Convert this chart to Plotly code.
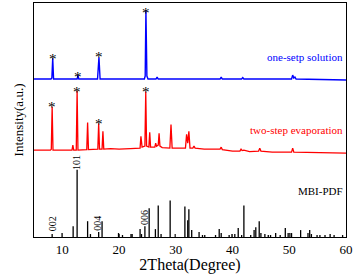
import plotly.graph_objects as go

# ---- data (intensity in arbitrary units) ----
blue_x = [5.0, 8.0, 8.15, 8.3, 8.45, 12.6, 12.75, 12.9, 16.2, 16.45, 16.65, 24.45, 24.6, 24.73, 24.9, 25.1,
          26.5, 26.7, 26.9, 37.8, 38.0, 38.2, 41.6, 41.8, 42.0, 50.4, 50.6, 50.8, 51.0, 51.2, 60.0]
blue_y = [160, 160, 161, 181, 160, 160, 164, 160, 160, 182, 160, 160, 163, 230, 163, 160,
          160, 162, 160, 160, 162, 160, 160, 161.5, 160, 160, 164, 161, 162, 160, 159]

red_x = [5.0, 7.9, 8.05, 8.2, 8.35, 11.7, 11.85, 12.0, 12.45, 12.6, 12.75, 14.3, 14.45, 14.6,
         16.25, 16.4, 16.55, 17.0, 17.15, 17.3, 18.5, 20.0, 22.0, 23.7, 23.85, 24.05, 24.55, 24.7, 24.85,
         25.25, 25.4, 25.55, 26.3, 26.45, 26.6, 26.9, 27.05, 27.2, 27.6, 28.95, 29.15, 29.35,
         31.7, 31.9, 32.1, 32.3, 32.5, 33.0, 33.2, 33.4, 35.0, 37.8, 38.0, 38.2, 40.0, 41.3, 41.5, 41.7,
         42.0, 43.0, 44.6, 44.8, 45.0, 47.0, 50.4, 50.6, 50.8, 55.0, 60.0]
red_y = [88, 88, 89, 132, 88, 88, 93, 88, 88, 148, 88, 88.5, 116, 88.5,
         89, 115, 89, 89, 107, 89, 89.5, 89, 89.5, 90, 102, 91, 92, 147, 92,
         91, 106, 91, 91, 95, 92, 93, 105, 92, 90.5, 90, 114, 90,
         90, 104, 95, 107, 90, 90, 92, 90, 89, 89, 91, 88.5, 87, 87, 89, 87.5,
         88, 86.5, 87, 90, 87, 86, 86, 90, 86, 85.5, 85]

pdf_pos = [8.2, 9.95, 11.9, 12.6, 14.45, 14.95, 16.4, 17.0, 19.9, 20.6, 22.1, 22.3, 23.7, 23.95, 24.55,
           25.3, 26.4, 26.9, 27.4, 29.0, 29.9, 31.6, 32.1, 32.3, 32.8, 34.1, 34.7, 35.1, 37.0, 37.65,
           38.0, 39.4, 39.9, 40.4, 41.0, 41.6, 42.0, 43.2, 43.8, 44.1, 44.7, 45.0, 45.7, 46.3, 46.7,
           47.6, 48.4, 49.3, 49.8, 50.1, 50.4, 52.0, 53.3, 53.6, 53.9, 54.9, 55.4, 56.3, 57.2, 57.9, 59.4]
pdf_int = [3, 4, 11, 68, 16, 3, 5, 16, 4, 2, 3, 3, 8, 3, 11,
           29, 8, 32, 3, 37, 3, 31, 17, 28, 7, 5, 2, 2, 2, 8,
           4, 2, 3, 3, 9, 2, 32, 2, 7, 10, 16, 4, 3, 2, 2,
           4, 2, 9, 4, 4, 4, 7, 4, 7, 3, 2, 2, 2, 3, 2, 2]

hkl_labels = ["002", "101", "004", "006"]
hkl_pos = [8.2, 12.6, 16.2, 24.45]
hkl_y = [13, 75, 14, 19.5]

blue_star_x = [8.3, 12.8, 16.45, 24.73]
blue_star_y = [180, 162, 182, 227]
red_star_x = [8.2, 12.6, 16.4, 24.7]
red_star_y = [132, 147, 114, 147]

series_names = ["one-setp solution", "two-step evaporation", "MBI-PDF"]

FONT = "Liberation Serif"

fig = go.Figure()
fig.add_trace(go.Scatter(x=blue_x, y=blue_y, mode="lines", line=dict(color="#0000ff", width=1.4),
                         showlegend=False, hoverinfo="skip"))
fig.add_trace(go.Scatter(x=red_x, y=red_y, mode="lines", line=dict(color="#ff0000", width=1.3),
                         showlegend=False, hoverinfo="skip"))
sx, sy = [], []
for p, h in zip(pdf_pos, pdf_int):
    sx += [p, p, None]
    sy += [0, h, None]
fig.add_trace(go.Scatter(x=sx, y=sy, mode="lines", line=dict(color="black", width=1.3),
                         showlegend=False, hoverinfo="skip"))

# stars
for x, y in zip(blue_star_x + red_star_x, blue_star_y + red_star_y):
    fig.add_annotation(x=x, y=y, text="*", showarrow=False, xanchor="center", yanchor="middle",
                       font=dict(family=FONT, size=15, color="black"))

for lab, x, y in zip(hkl_labels, hkl_pos, hkl_y):
    fig.add_annotation(x=x, y=y, text=lab, textangle=-90, showarrow=False,
                       font=dict(family=FONT, size=10, color="black"),
                       xanchor="center", yanchor="middle")

label_y = [182, 108, 47]
label_col = ["#0000ff", "#ff0000", "black"]
for name, y, c in zip(series_names, label_y, label_col):
    fig.add_annotation(x=59.9, y=y, text=name, showarrow=False, xanchor="right", yanchor="middle",
                       font=dict(family=FONT, size=11, color=c))

fig.update_layout(
    width=358, height=274,
    margin=dict(l=34, r=12, t=2, b=35),
    paper_bgcolor="white", plot_bgcolor="white",
    font=dict(family=FONT, size=13, color="black"),
    showlegend=False,
)
fig.update_xaxes(range=[5, 60], tickvals=[10, 20, 30, 40, 50, 60], ticks="inside", ticklen=3,
                 showline=True, linecolor="black", linewidth=1, mirror=True, showgrid=False,
                 zeroline=False, title=dict(text="2Theta(Degree)", standoff=4),
                 tickfont=dict(family=FONT, size=13))
fig.update_yaxes(range=[0, 237], showticklabels=False, ticks="", showline=True, linecolor="black",
                 linewidth=1, mirror=True, showgrid=False, zeroline=False,
                 title=dict(text="Intensity(a.u.)", standoff=6, font=dict(family=FONT, size=13)))

fig.write_html("out.html", config={"displayModeBar": False},
               post_script="document.body.style.margin='0';document.body.style.padding='0';")
